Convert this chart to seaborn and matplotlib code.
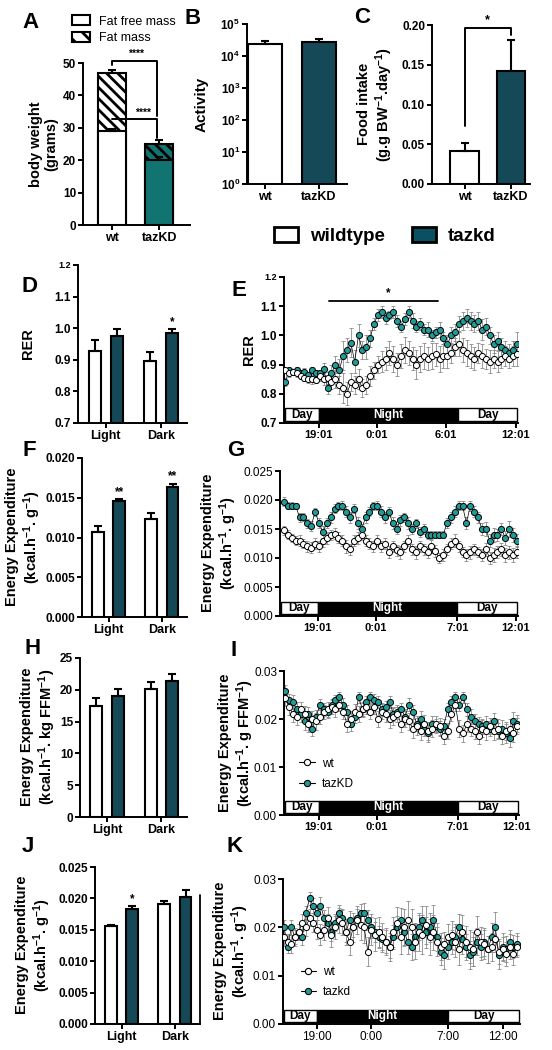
import numpy as np
import pandas as pd
import matplotlib
matplotlib.use("Agg")
import matplotlib.pyplot as plt
import matplotlib.transforms as mtransforms
from matplotlib.patches import Patch, Rectangle
from matplotlib.lines import Line2D
from matplotlib.ticker import NullLocator
import seaborn as sns

# ===== data =====
GENO = ["wt", "tazKD"]
PHASES = ["Light", "Dark"]

# A  body weight (grams)
A_FAT_FREE = [29.0, 20.0]
A_FAT_FREE_ERR = [0.7, 1.0]
A_TOTAL = [47.0, 25.1]
A_TOTAL_ERR = [0.9, 1.2]

# B  activity counts
B_ACTIVITY = [2.4e4, 2.7e4]
B_ACTIVITY_ERR = [0.5e4, 0.7e4]

# C  food intake
C_FOOD = [0.042, 0.142]
C_FOOD_ERR = [0.0095, 0.039]

# D  RER light / dark
D_WT = [0.929, 0.897]
D_WT_ERR = [0.034, 0.029]
D_TZ = [0.976, 0.986]
D_TZ_ERR = [0.023, 0.013]

# F  EE per g
F_WT = [0.01075, 0.0123]
F_WT_ERR = [0.0007, 0.0008]
F_TZ = [0.01458, 0.01638]
F_TZ_ERR = [0.0002, 0.0004]

# H  EE per kg FFM
H_WT = [17.5, 20.1]
H_WT_ERR = [1.2, 1.1]
H_TZ = [19.05, 21.4]
H_TZ_ERR = [1.05, 1.1]

# J  EE per g (second cohort)
J_WT = [0.0156, 0.0191]
J_WT_ERR = [0.0001, 0.0005]
J_TZ = [0.0183, 0.0203]
J_TZ_ERR = [0.0005, 0.0010]

# time courses: one point every 20 min (hours on a 16:00 -> next day clock)
T_EGI = 16.1 + np.arange(61) / 3
T_K = 16.0 + np.arange(65) / 3

E_WT = [0.88, 0.87, 0.875, 0.87, 0.86, 0.855, 0.85, 0.85, 0.848,
        0.86, 0.85, 0.855, 0.84, 0.85, 0.83, 0.82, 0.80, 0.84,
        0.83, 0.85, 0.82, 0.83, 0.86, 0.88, 0.90, 0.91, 0.92,
        0.94, 0.92, 0.90, 0.93, 0.95, 0.94, 0.92, 0.90, 0.92,
        0.93, 0.92, 0.93, 0.935, 0.92, 0.93, 0.93, 0.94, 0.96,
        0.97, 0.95, 0.94, 0.93, 0.92, 0.94, 0.93, 0.92, 0.91,
        0.92, 0.91, 0.92, 0.93, 0.92, 0.93, 0.935]
E_WT_ERR = [0.01, 0.012, 0.01, 0.012, 0.01, 0.012, 0.012, 0.015, 0.012, 0.015, 0.02, 0.02,
            0.025, 0.03, 0.03, 0.05, 0.04, 0.03, 0.03, 0.035, 0.03, 0.03, 0.035, 0.03,
            0.03, 0.035, 0.04, 0.04, 0.045, 0.04, 0.04, 0.045, 0.04, 0.04, 0.05, 0.045,
            0.045, 0.04, 0.045, 0.04, 0.045, 0.04, 0.04, 0.035, 0.03, 0.04, 0.04, 0.045,
            0.04, 0.04, 0.035, 0.04, 0.035, 0.04, 0.03, 0.035, 0.03, 0.035, 0.03, 0.035, 0.04]
E_TZ = [0.84, 0.88, 0.875, 0.88, 0.87, 0.875, 0.865, 0.88, 0.87,
        0.87, 0.885, 0.82, 0.87, 0.90, 0.88, 0.93, 0.95, 0.975,
        0.91, 1.00, 0.95, 0.96, 0.99, 1.04, 1.07, 1.08, 1.06,
        1.07, 1.08, 1.05, 1.03, 1.055, 1.08, 1.05, 1.03, 1.04,
        1.02, 1.02, 1.00, 1.01, 1.02, 0.99, 0.97, 1.00, 1.01,
        1.04, 1.05, 1.06, 1.05, 1.04, 1.05, 1.02, 1.03, 1.00,
        0.97, 0.98, 0.96, 0.95, 0.94, 0.95, 0.97]
E_TZ_ERR = [0.015, 0.01, 0.01, 0.012, 0.01, 0.012, 0.01, 0.012, 0.01, 0.012, 0.02, 0.02,
            0.03, 0.03, 0.04, 0.05, 0.04, 0.05, 0.04, 0.04, 0.03, 0.04, 0.03, 0.02,
            0.02, 0.02, 0.02, 0.015, 0.02, 0.02, 0.02, 0.02, 0.02, 0.025, 0.02, 0.02,
            0.02, 0.025, 0.02, 0.02, 0.025, 0.02, 0.03, 0.03, 0.03, 0.025, 0.03, 0.03,
            0.03, 0.03, 0.03, 0.035, 0.03, 0.03, 0.03, 0.03, 0.03, 0.03, 0.03, 0.03, 0.04]

G_WT = [0.0148, 0.0140, 0.0135, 0.0130, 0.0130, 0.0125, 0.0120, 0.0118, 0.0125,
        0.0120, 0.0130, 0.0135, 0.0140, 0.0142, 0.0135, 0.0130, 0.0120, 0.0115,
        0.0130, 0.0135, 0.0140, 0.0130, 0.0125, 0.0120, 0.0130, 0.0120, 0.0125,
        0.0110, 0.0120, 0.0113, 0.0110, 0.0120, 0.0130, 0.0115, 0.0110, 0.0120,
        0.0115, 0.0110, 0.0120, 0.0112, 0.0100, 0.0105, 0.0115, 0.0125, 0.0130,
        0.0120, 0.0110, 0.0105, 0.0110, 0.0115, 0.0110, 0.0105, 0.0115, 0.0100,
        0.0105, 0.0110, 0.0115, 0.0105, 0.0110, 0.0105, 0.0110]
G_WT_ERR = [0.0008, 0.0008, 0.0007, 0.0008, 0.0009, 0.0008, 0.0009, 0.0010, 0.0009,
            0.0010, 0.0011, 0.0010, 0.0009, 0.0010, 0.0009, 0.0010, 0.0011, 0.0010,
            0.0009, 0.0010, 0.0009, 0.0010, 0.0009, 0.0010, 0.0009, 0.0010, 0.0009,
            0.0010, 0.0009, 0.0010, 0.0011, 0.0010, 0.0009, 0.0010, 0.0011, 0.0010,
            0.0009, 0.0010, 0.0011, 0.0010, 0.0009, 0.0010, 0.0009, 0.0010, 0.0011,
            0.0010, 0.0009, 0.0010, 0.0011, 0.0010, 0.0009, 0.0010, 0.0011, 0.0010,
            0.0012, 0.0010, 0.0011, 0.0012, 0.0011, 0.0012, 0.0010]
G_TZ = [0.0197, 0.0190, 0.0190, 0.0190, 0.0170, 0.0170, 0.0160, 0.0155, 0.0180,
        0.0160, 0.0145, 0.0160, 0.0170, 0.0185, 0.0190, 0.0190, 0.0180, 0.0170,
        0.0185, 0.0160, 0.0150, 0.0170, 0.0180, 0.0190, 0.0190, 0.0180, 0.0170,
        0.0180, 0.0160, 0.0150, 0.0165, 0.0170, 0.0160, 0.0150, 0.0160, 0.0145,
        0.0150, 0.0140, 0.0140, 0.0140, 0.0140, 0.0140, 0.0160, 0.0170, 0.0180,
        0.0190, 0.0190, 0.0160, 0.0190, 0.0180, 0.0170, 0.0150, 0.0150, 0.0130,
        0.0140, 0.0140, 0.0150, 0.0135, 0.0150, 0.0140, 0.0130]
G_TZ_ERR = [0.0008, 0.0006, 0.0006, 0.0005, 0.0008, 0.0007, 0.0008, 0.0008, 0.0007,
            0.0009, 0.0010, 0.0009, 0.0010, 0.0008, 0.0007, 0.0008, 0.0009, 0.0010,
            0.0008, 0.0010, 0.0009, 0.0009, 0.0008, 0.0007, 0.0008, 0.0009, 0.0009,
            0.0008, 0.0010, 0.0009, 0.0009, 0.0008, 0.0010, 0.0009, 0.0008, 0.0009,
            0.0008, 0.0007, 0.0007, 0.0006, 0.0006, 0.0006, 0.0009, 0.0010, 0.0009,
            0.0008, 0.0008, 0.0010, 0.0009, 0.0010, 0.0009, 0.0010, 0.0012, 0.0011,
            0.0012, 0.0010, 0.0011, 0.0012, 0.0014, 0.0012, 0.0011]

I_WT = [0.0243, 0.0225, 0.0210, 0.0205, 0.0220, 0.0210, 0.0190, 0.0200, 0.0195,
        0.0205, 0.0215, 0.0220, 0.0225, 0.0220, 0.0230, 0.0215, 0.0190, 0.0200,
        0.0215, 0.0210, 0.0220, 0.0225, 0.0215, 0.0225, 0.0200, 0.0215, 0.0210,
        0.0200, 0.0205, 0.0210, 0.0190, 0.0200, 0.0195, 0.0180, 0.0185, 0.0175,
        0.0190, 0.0175, 0.0180, 0.0190, 0.0185, 0.0165, 0.0175, 0.0210, 0.0230,
        0.0180, 0.0170, 0.0190, 0.0180, 0.0175, 0.0165, 0.0180, 0.0175, 0.0185,
        0.0175, 0.0180, 0.0165, 0.0175, 0.0180, 0.0170, 0.0185]
I_WT_ERR = [0.0015, 0.0016, 0.0017, 0.0018, 0.0016, 0.0017, 0.0018, 0.0016, 0.0017,
            0.0015, 0.0014, 0.0015, 0.0014, 0.0015, 0.0014, 0.0016, 0.0018, 0.0017,
            0.0016, 0.0017, 0.0015, 0.0014, 0.0016, 0.0015, 0.0017, 0.0016, 0.0017,
            0.0018, 0.0017, 0.0016, 0.0018, 0.0017, 0.0018, 0.0019, 0.0018, 0.0019,
            0.0018, 0.0019, 0.0018, 0.0017, 0.0018, 0.0017, 0.0016, 0.0015, 0.0014,
            0.0017, 0.0018, 0.0017, 0.0016, 0.0017, 0.0018, 0.0017, 0.0018, 0.0017,
            0.0018, 0.0019, 0.0018, 0.0019, 0.0020, 0.0018, 0.0017]
I_TZ = [0.0258, 0.0240, 0.0235, 0.0220, 0.0210, 0.0195, 0.0210, 0.0180, 0.0205,
        0.0230, 0.0220, 0.0215, 0.0230, 0.0240, 0.0245, 0.0230, 0.0215, 0.0190,
        0.0205, 0.0245, 0.0220, 0.0235, 0.0245, 0.0240, 0.0235, 0.0220, 0.0225,
        0.0235, 0.0210, 0.0215, 0.0220, 0.0205, 0.0230, 0.0215, 0.0190, 0.0200,
        0.0180, 0.0170, 0.0190, 0.0185, 0.0180, 0.0185, 0.0220, 0.0235, 0.0245,
        0.0230, 0.0245, 0.0220, 0.0205, 0.0195, 0.0190, 0.0185, 0.0190, 0.0180,
        0.0195, 0.0175, 0.0180, 0.0170, 0.0160, 0.0195, 0.0190]
I_TZ_ERR = [0.0013, 0.0012, 0.0014, 0.0015, 0.0016, 0.0017, 0.0015, 0.0016, 0.0014,
            0.0012, 0.0013, 0.0012, 0.0011, 0.0010, 0.0012, 0.0013, 0.0015, 0.0016,
            0.0014, 0.0012, 0.0013, 0.0012, 0.0011, 0.0012, 0.0013, 0.0014, 0.0012,
            0.0013, 0.0015, 0.0014, 0.0013, 0.0015, 0.0014, 0.0015, 0.0016, 0.0017,
            0.0016, 0.0017, 0.0016, 0.0015, 0.0016, 0.0015, 0.0014, 0.0012, 0.0011,
            0.0013, 0.0012, 0.0014, 0.0015, 0.0016, 0.0015, 0.0016, 0.0017, 0.0016,
            0.0018, 0.0017, 0.0018, 0.0019, 0.0018, 0.0020, 0.0018]

K_WT = [0.0180, 0.0170, 0.0165, 0.0180, 0.0190, 0.0210,
        0.0200, 0.0220, 0.0210, 0.0195, 0.0185, 0.0195, 0.0220, 0.0185, 0.0200,
        0.0215, 0.0210, 0.0190, 0.0170, 0.0200, 0.0215, 0.0205, 0.0200, 0.0150,
        0.0195, 0.0185, 0.0190, 0.0180, 0.0170, 0.0160, 0.0190, 0.0210, 0.0180,
        0.0200, 0.0215, 0.0200, 0.0170, 0.0190, 0.0185, 0.0205, 0.0180, 0.0190,
        0.0170, 0.0160, 0.0165, 0.0180, 0.0185, 0.0170, 0.0155, 0.0190, 0.0170,
        0.0160, 0.0155, 0.0190, 0.0170, 0.0165, 0.0155, 0.0160, 0.0175, 0.0150,
        0.0155, 0.0145, 0.0160, 0.0145, 0.0160]
K_WT_ERR = [0.0018, 0.0017, 0.0019, 0.0018, 0.0016, 0.0017,
            0.0018, 0.0017, 0.0019, 0.0020, 0.0022, 0.0021, 0.0023, 0.0025, 0.0024,
            0.0026, 0.0025, 0.0027, 0.0028, 0.0030, 0.0029, 0.0031, 0.0033, 0.0030,
            0.0032, 0.0034, 0.0031, 0.0030, 0.0028, 0.0029, 0.0031, 0.0033, 0.0035,
            0.0038, 0.0040, 0.0037, 0.0036, 0.0039, 0.0041, 0.0040, 0.0038, 0.0036,
            0.0030, 0.0028, 0.0026, 0.0027, 0.0029, 0.0031, 0.0033, 0.0035, 0.0032,
            0.0034, 0.0036, 0.0033, 0.0031, 0.0030, 0.0028, 0.0029, 0.0027, 0.0026,
            0.0025, 0.0024, 0.0026, 0.0023, 0.0022]
K_TZ = [0.0200, 0.0160, 0.0200, 0.0180, 0.0190, 0.0180,
        0.0230, 0.0260, 0.0245, 0.0230, 0.0245, 0.0220, 0.0210, 0.0190, 0.0210,
        0.0230, 0.0220, 0.0190, 0.0215, 0.0200, 0.0220, 0.0230, 0.0230, 0.0215,
        0.0200, 0.0190, 0.0180, 0.0175, 0.0170, 0.0160, 0.0180, 0.0200, 0.0215,
        0.0190, 0.0170, 0.0160, 0.0180, 0.0200, 0.0215, 0.0190, 0.0200, 0.0215,
        0.0180, 0.0150, 0.0143, 0.0160, 0.0170, 0.0180, 0.0200, 0.0175, 0.0160,
        0.0143, 0.0150, 0.0170, 0.0160, 0.0170, 0.0155, 0.0180, 0.0200, 0.0143,
        0.0160, 0.0155, 0.0170, 0.0160, 0.0165]
K_TZ_ERR = [0.0015, 0.0014, 0.0016, 0.0015, 0.0017, 0.0016,
            0.0015, 0.0014, 0.0016, 0.0015, 0.0017, 0.0016, 0.0018, 0.0019, 0.0017,
            0.0016, 0.0018, 0.0020, 0.0019, 0.0020, 0.0018, 0.0019, 0.0021, 0.0020,
            0.0022, 0.0021, 0.0023, 0.0022, 0.0024, 0.0023, 0.0025, 0.0023, 0.0024,
            0.0026, 0.0025, 0.0027, 0.0028, 0.0026, 0.0030, 0.0032, 0.0030, 0.0031,
            0.0028, 0.0027, 0.0029, 0.0026, 0.0025, 0.0027, 0.0028, 0.0030, 0.0027,
            0.0029, 0.0031, 0.0028, 0.0027, 0.0029, 0.0028, 0.0030, 0.0031, 0.0029,
            0.0028, 0.0027, 0.0025, 0.0024, 0.0023]

# ===== style =====
sns.set_theme(style="ticks", rc={"axes.edgecolor": "black", "xtick.color": "black",
                                 "ytick.color": "black", "text.color": "black",
                                 "axes.labelcolor": "black"})
plt.rcParams["font.family"] = ["Liberation Sans", "DejaVu Sans"]
plt.rcParams["font.weight"] = "bold"
plt.rcParams["mathtext.fontset"] = "custom"
plt.rcParams["mathtext.rm"] = "Liberation Sans:bold"
plt.rcParams["mathtext.bf"] = "Liberation Sans:bold"
plt.rcParams["mathtext.it"] = "Liberation Sans:bold"
plt.rcParams["mathtext.default"] = "bf"
plt.rcParams["hatch.linewidth"] = 2.0

WHITE = "white"
TEAL_DARK = "#0b4f62"
TEAL_A = "#00857f"
TEAL_PT = "#1f9c97"
ERR_GREY = "#8a8a8a"
HATCH = "\\\\\\"

W, H = 552, 1050
fig = plt.figure(figsize=(W / 100, H / 100), dpi=100)


def add_ax(l, t, r, b):
    return fig.add_axes([l / W, 1 - b / H, (r - l) / W, (b - t) / H])


def style_axes(ax):
    sns.despine(ax=ax)
    for side in ("left", "bottom"):
        ax.spines[side].set_linewidth(1.4)
        ax.spines[side].set_color("black")
    ax.tick_params(axis="both", direction="out", length=3.5, width=1.4,
                   color="black", labelcolor="black", pad=1.5)
    ax.set(xlabel="", ylabel="")


def set_yticks(ax, ticks, labels, size=8.5, weight="bold"):
    ax.set_yticks(ticks, labels, fontsize=size, fontweight=weight)
    ax.yaxis.set_minor_locator(NullLocator())


def upper_err(ax, x, vals, errs):
    ax.errorbar(x, vals, yerr=[np.zeros(len(vals)), errs], fmt="none", ecolor="black",
                elinewidth=1.5, capsize=3.2, capthick=1.5, zorder=3)


def two_bars(ax, vals, errs, colors, width):
    sns.barplot(x=GENO, y=vals, hue=GENO, palette=colors, width=width, edgecolor="black",
                linewidth=1.5, errorbar=None, legend=False, ax=ax)
    upper_err(ax, np.arange(2), vals, errs)
    ax.set_xticks([0, 1], GENO, fontsize=9, fontweight="bold")


def paired_bars(ax, wt, wt_err, tz, tz_err):
    df = pd.DataFrame({"phase": PHASES + PHASES,
                       "group": ["wildtype"] * 2 + ["tazkd"] * 2,
                       "value": list(wt) + list(tz)})
    sns.barplot(data=df, x="phase", y="value", hue="group", palette=[WHITE, TEAL_DARK],
                edgecolor="black", linewidth=1.5, errorbar=None, width=0.8, gap=0.45,
                legend=False, ax=ax)
    pos = np.arange(len(PHASES))
    upper_err(ax, pos - 0.2, wt, wt_err)
    upper_err(ax, pos + 0.2, tz, tz_err)
    ax.set_xlim(-0.5, 1.47)
    ax.set_xticks(pos, PHASES, fontsize=9, fontweight="bold")
    style_axes(ax)


def day_night(ax, x0, x1):
    trans = mtransforms.blended_transform_factory(ax.transData, ax.transAxes)
    y0, h = 0.015, 0.085
    for a, b, face, txt, tc in [(x0, 19, "white", "Day", "black"),
                                (19, 31, "black", "Night", "white"),
                                (31, x1, "white", "Day", "black")]:
        ax.add_patch(Rectangle((a, y0), b - a, h, transform=trans, facecolor=face,
                               edgecolor="black", lw=1.0, zorder=6, clip_on=False))
        ax.text((a + b) / 2, y0 + h / 2, txt, transform=trans, ha="center", va="center",
                color=tc, fontsize=8.5, fontweight="bold", zorder=7)


def time_course(ax, t, wt, wt_err, tz, tz_err, xlim):
    for vals, errs in [(tz, tz_err), (wt, wt_err)]:
        ax.errorbar(t, vals, yerr=errs, fmt="none", ecolor=ERR_GREY, elinewidth=0.6,
                    capsize=1.4, capthick=0.6, zorder=2)
    for vals, face, z in [(tz, TEAL_PT, 3), (wt, WHITE, 4)]:
        sns.lineplot(x=t, y=vals, color="black", linewidth=0.5, marker="o", markersize=4.4,
                     markerfacecolor=face, markeredgecolor="black", markeredgewidth=0.7,
                     ax=ax, zorder=z)
    ax.set_xlim(*xlim)
    day_night(ax, xlim[0] + 0.05, xlim[1] - 0.05)
    style_axes(ax)


def letter(x, y, s):
    fig.text(x / W, 1 - y / H, s, fontsize=16, fontweight="bold", ha="left", va="top")


def ylab(x, y, s, size=10.5):
    fig.text(x / W, 1 - y / H, s, fontsize=size, fontweight="bold", rotation=90,
             ha="center", va="center", multialignment="center", linespacing=1.1)


EE_G = "Energy Expenditure\n(kcal.h$^{-1}$. g$^{-1}$)"

# ----- A -----
axA = add_ax(83, 63, 190, 225)
sns.barplot(x=GENO, y=A_TOTAL, hue=GENO, palette=[WHITE, TEAL_A], width=0.6, edgecolor="black",
            linewidth=1.5, hatch=HATCH, errorbar=None, legend=False, ax=axA)
sns.barplot(x=GENO, y=A_FAT_FREE, hue=GENO, palette=[WHITE, TEAL_A], width=0.6, edgecolor="black",
            linewidth=1.5, errorbar=None, legend=False, ax=axA)
upper_err(axA, np.arange(2), A_TOTAL, A_TOTAL_ERR)
upper_err(axA, np.arange(2), A_FAT_FREE, A_FAT_FREE_ERR)
axA.set_xlim(-0.63, 1.66)
axA.set_ylim(0, 50)
axA.set_xticks([0, 1], GENO, fontsize=9, fontweight="bold")
set_yticks(axA, [0, 10, 20, 30, 40, 50], ["0", "10", "20", "30", "40", "50"])
style_axes(axA)
axA.plot([0, 0, 0.95, 0.95], [49.3, 50.5, 50.5, 33.7], color="black", lw=1.4, clip_on=False)
axA.text(0.5, 51.2, "****", ha="center", va="bottom", fontsize=7.5, fontweight="bold")
axA.plot([0, 0.95, 0.95], [32.6, 32.6, 26.8], color="black", lw=1.4)
axA.text(0.66, 33.2, "****", ha="center", va="bottom", fontsize=7.5, fontweight="bold")
axA.legend(handles=[Patch(facecolor=WHITE, edgecolor="black", linewidth=1.5),
                    Patch(facecolor=WHITE, edgecolor="black", linewidth=1.5, hatch="\\\\")],
           labels=["Fat free mass", "Fat mass"], loc="upper left",
           bbox_to_anchor=(66 / W, 1 - 9 / H), bbox_transform=fig.transFigure,
           frameon=False, borderpad=0, handlelength=1.45, handleheight=0.85,
           handletextpad=0.7, labelspacing=0.35, prop={"size": 9, "weight": "normal"})

# ----- B -----
axB = add_ax(247, 24, 347, 184)
two_bars(axB, B_ACTIVITY, B_ACTIVITY_ERR, [WHITE, TEAL_DARK], 0.63)
axB.set_yscale("log")
axB.set_ylim(1, 1e5)
axB.set_xlim(-0.33, 1.52)
set_yticks(axB, [1, 10, 100, 1e3, 1e4, 1e5], [rf"$10^{{{k}}}$" for k in range(6)])
style_axes(axB)

# ----- C -----
axC = add_ax(432, 25, 530, 184)
two_bars(axC, C_FOOD, C_FOOD_ERR, [WHITE, TEAL_DARK], 0.62)
axC.set_ylim(0, 0.2)
axC.set_xlim(-0.70, 1.41)
set_yticks(axC, [0, 0.05, 0.10, 0.15, 0.20], ["0.00", "0.05", "0.10", "0.15", "0.20"])
style_axes(axC)
axC.plot([0, 0, 1, 1], [0.073, 0.196, 0.196, 0.187], color="black", lw=1.4, clip_on=False)
axC.text(0.5, 0.199, "*", ha="center", va="bottom", fontsize=9, fontweight="bold")

# legend row
fig.legend(handles=[Patch(facecolor=WHITE, edgecolor="black", linewidth=2),
                    Patch(facecolor=TEAL_DARK, edgecolor="black", linewidth=2)],
           labels=["wildtype", "tazkd"], loc="center left",
           bbox_to_anchor=(265 / W, 1 - 236 / H), ncol=2, frameon=False, borderpad=0,
           handlelength=1.25, handleheight=0.9, handletextpad=0.65, columnspacing=1.45,
           prop={"size": 13.5, "weight": "bold"})

# ----- D -----
axD = add_ax(78, 265, 187, 423)
paired_bars(axD, D_WT, D_WT_ERR, D_TZ, D_TZ_ERR)
axD.set_ylim(0.7, 1.2)
set_yticks(axD, [0.7, 0.8, 0.9, 1.0, 1.1, 1.2], ["0.7", "0.8", "0.9", "1.0", "1.1", "1.2"])
axD.get_yticklabels()[-1].set_fontsize(6.5)
axD.text(1.2, 1.0, "*", ha="center", va="bottom", fontsize=8.5, fontweight="bold")

# ----- E -----
axE = add_ax(284, 277, 518, 423)
time_course(axE, T_EGI, E_WT, E_WT_ERR, E_TZ, E_TZ_ERR, (16.0, 36.2))
axE.set_ylim(0.7, 1.2)
set_yticks(axE, [0.7, 0.8, 0.9, 1.0, 1.1, 1.2], ["0.7", "0.8", "0.9", "1.0", "1.1", "1.2"])
axE.get_yticklabels()[-1].set_fontsize(6.5)
axE.set_xticks([19, 24, 30, 36], ["19:01", "0:01", "6:01", "12:01"], fontsize=8, fontweight="bold")
axE.plot([19.86, 29.3], [1.117, 1.117], color="black", lw=1.3)
axE.text(25.0, 1.125, "*", ha="center", va="bottom", fontsize=8.5, fontweight="bold")

# ----- F -----
axF = add_ax(82, 458, 187, 617)
paired_bars(axF, F_WT, F_WT_ERR, F_TZ, F_TZ_ERR)
axF.set_ylim(0, 0.02)
set_yticks(axF, [0, 0.005, 0.01, 0.015, 0.02], ["0.000", "0.005", "0.010", "0.015", "0.020"])
for x, top in [(0.2, F_TZ[0] + F_TZ_ERR[0]), (1.2, F_TZ[1] + F_TZ_ERR[1])]:
    axF.text(x, top + 0.0002, "**", ha="center", va="bottom", fontsize=8.5, fontweight="bold")

# ----- G -----
axG = add_ax(280, 471, 518, 616)
time_course(axG, T_EGI, G_WT, G_WT_ERR, G_TZ, G_TZ_ERR, (15.75, 36.2))
axG.set_ylim(0, 0.025)
set_yticks(axG, [0, 0.005, 0.01, 0.015, 0.02, 0.025],
           ["0.000", "0.005", "0.010", "0.015", "0.020", "0.025"], weight="normal")
axG.set_xticks([19, 24, 31, 36], ["19:01", "0:01", "7:01", "12:01"], fontsize=8, fontweight="bold")

# ----- H -----
axH = add_ax(80, 658, 187, 817)
paired_bars(axH, H_WT, H_WT_ERR, H_TZ, H_TZ_ERR)
axH.set_ylim(0, 25)
set_yticks(axH, [0, 5, 10, 15, 20, 25], ["0", "5", "10", "15", "20", "25"])

# ----- I -----
axI = add_ax(284, 671, 519, 815)
time_course(axI, T_EGI, I_WT, I_WT_ERR, I_TZ, I_TZ_ERR, (16.0, 36.25))
axI.set_ylim(0, 0.03)
set_yticks(axI, [0, 0.01, 0.02, 0.03], ["0.00", "0.01", "0.02", "0.03"], weight="normal")
axI.set_xticks([19, 24, 31, 36], ["19:01", "0:01", "7:01", "12:01"], fontsize=8, fontweight="bold")

# ----- J -----
axJ = add_ax(95, 867, 200, 1024)
paired_bars(axJ, J_WT, J_WT_ERR, J_TZ, J_TZ_ERR)
axJ.set_ylim(0, 0.025)
set_yticks(axJ, [0, 0.005, 0.01, 0.015, 0.02, 0.025],
           ["0.000", "0.005", "0.010", "0.015", "0.020", "0.025"])
axJ.text(0.2, J_TZ[0] + J_TZ_ERR[0] + 0.0002, "*", ha="center", va="bottom",
         fontsize=8.5, fontweight="bold")

# ----- K -----
axK = add_ax(283, 879, 520, 1024)
time_course(axK, T_K, K_WT, K_WT_ERR, K_TZ, K_TZ_ERR, (15.9, 37.6))
axK.set_ylim(0, 0.03)
set_yticks(axK, [0, 0.01, 0.02, 0.03], ["0.00", "0.01", "0.02", "0.03"], weight="normal")
axK.set_xticks([19, 24, 31, 36], ["19:00", "0:00", "7:00", "12:00"], fontsize=8.5, fontweight="normal")

# legends in I and K
for ax, names, anchor in [(axI, ["wt", "tazKD"], (0.04, 0.44)), (axK, ["wt", "tazkd"], (0.05, 0.44))]:
    hs = [Line2D([0], [0], color="black", lw=0.8, marker="o", markersize=4.5,
                 markerfacecolor=f, markeredgecolor="black", markeredgewidth=0.8)
          for f in (WHITE, TEAL_PT)]
    ax.legend(hs, names, loc="upper left", bbox_to_anchor=anchor, frameon=False, borderpad=0,
              handlelength=1.3, handletextpad=0.6, labelspacing=0.7,
              prop={"size": 8.5, "weight": "normal"})

# stray frame line to the right of J
fig.add_artist(Line2D([200 / W, 200 / W], [1 - 895 / H, 1 - 1024 / H], color="black", lw=1.3))

# panel letters
for s, x, y in [("A", 22, 12), ("B", 185, 8), ("C", 354, 7), ("D", 22, 276), ("E", 231, 280),
                ("F", 23, 440), ("G", 227, 440), ("H", 24, 638), ("I", 230, 640),
                ("J", 22, 836), ("K", 226, 836)]:
    letter(x, y, s)

# axis titles
ylab(44, 144, "body weight\n(grams)")
ylab(202, 104, "Activity", size=11)
ylab(376, 104, "Food intake\n(g.g BW$^{-1}$.day$^{-1}$)")
ylab(28, 344, "RER")
ylab(249, 350, "RER")
ylab(24, 537, EE_G)
ylab(220, 543, EE_G)
ylab(39, 737, "Energy Expenditure\n(kcal.h$^{-1}$. kg FFM$^{-1}$)")
ylab(237, 743, "Energy Expenditure\n(kcal.h$^{-1}$. g FFM$^{-1}$)")
ylab(34, 945, EE_G)
ylab(232, 951, EE_G)

fig.savefig("out.png", dpi=100)
